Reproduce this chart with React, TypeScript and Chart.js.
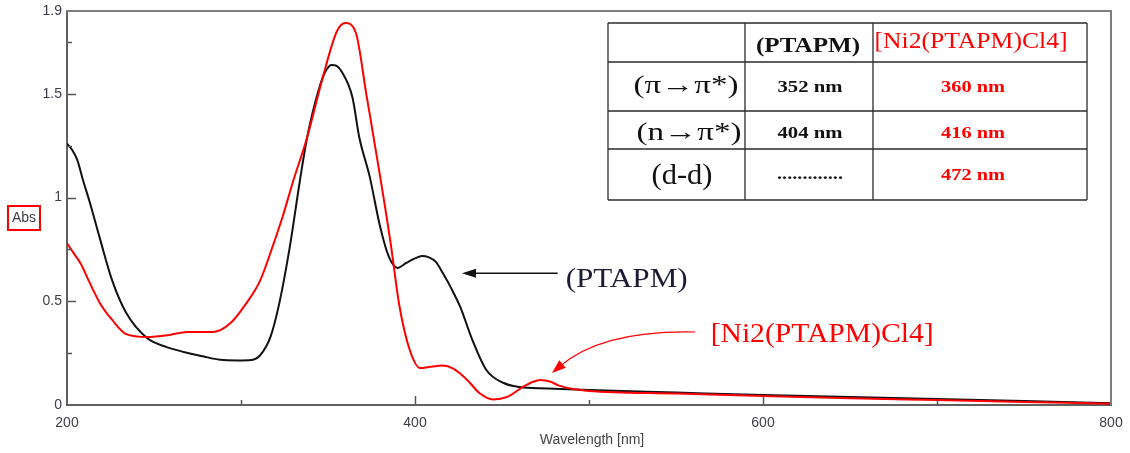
import React, { useEffect, useRef } from "react";
import { Chart, registerables } from "chart.js";

Chart.register(...registerables);

// Absorption spectrum of the free ligand (PTAPM)
const PTAPM_NM = [200, 203, 206, 209, 213, 219, 226, 234, 246, 257, 267, 278, 288, 298, 306, 311, 317, 322, 328, 334, 338, 345, 349, 352, 355, 358, 364, 368, 374, 380, 385, 390, 395, 400, 404, 408, 412, 416, 421, 426, 433, 441, 451, 460, 476, 500, 550, 600, 650, 700, 750, 800];
const PTAPM_ABS = [1.26, 1.23, 1.18, 1.09, 0.98, 0.8, 0.6, 0.445, 0.323, 0.28, 0.256, 0.235, 0.218, 0.215, 0.217, 0.24, 0.33, 0.49, 0.76, 1.09, 1.29, 1.53, 1.615, 1.64, 1.635, 1.606, 1.485, 1.29, 1.1, 0.858, 0.714, 0.661, 0.685, 0.707, 0.718, 0.712, 0.69, 0.636, 0.56, 0.473, 0.313, 0.169, 0.106, 0.087, 0.08, 0.072, 0.06, 0.048, 0.038, 0.029, 0.019, 0.008];

// Absorption spectrum of the nickel complex [Ni2(PTAPM)Cl4]
const COMPLEX_NM = [200, 204, 208, 213, 219, 226, 234, 246, 259, 269, 284, 294, 303, 311, 318, 324, 330, 338, 347, 355, 360, 366, 372, 380, 386, 391, 397, 403, 408, 416, 422, 430, 437, 445, 453, 462, 468, 472, 478, 482, 491, 500, 550, 600, 650, 700, 750, 800];
const COMPLEX_ABS = [0.78, 0.73, 0.68, 0.59, 0.49, 0.41, 0.342, 0.328, 0.338, 0.352, 0.352, 0.395, 0.49, 0.6, 0.76, 0.91, 1.08, 1.29, 1.58, 1.8, 1.842, 1.795, 1.5, 1.1, 0.78, 0.48, 0.265, 0.178, 0.183, 0.19, 0.175, 0.121, 0.058, 0.027, 0.039, 0.087, 0.112, 0.12, 0.112, 0.096, 0.077, 0.068, 0.055, 0.043, 0.033, 0.024, 0.015, 0.006];

const X_TICKS = [200, 400, 600, 800];
const X_MINOR = [300, 500, 700];
const Y_TICKS = [0, 0.5, 1, 1.5, 1.9];
const Y_MINOR = [0.25, 0.75, 1.25, 1.75];

// Band assignment table
const TABLE_HEADERS = ["(PTAPM)", "[Ni2(PTAPM)Cl4]"];
const TRANSITIONS = ["(π→π*)", "(n→π*)", "(d-d)"];
const PTAPM_BANDS = ["352 nm", "404 nm", "............."];
const COMPLEX_BANDS = ["360 nm", "416 nm", "472 nm"];

const RED = "#ff0000";
const SERIF = "'Liberation Serif', 'Times New Roman', serif";
const SANS = "'Liberation Sans', Arial, sans-serif";

function drawText(
  ctx: CanvasRenderingContext2D,
  text: string,
  cx: number,
  cy: number,
  font: string,
  color: string,
  width?: number
) {
  ctx.save();
  ctx.font = font;
  ctx.fillStyle = color;
  ctx.textAlign = "center";
  ctx.textBaseline = "middle";
  const w = ctx.measureText(text).width;
  ctx.translate(cx, cy);
  if (width && w > 0) ctx.scale(width / w, 1);
  ctx.fillText(text, 0, 0);
  ctx.restore();
}

function arrowHead(
  ctx: CanvasRenderingContext2D,
  tipX: number,
  tipY: number,
  dx: number,
  dy: number,
  len: number,
  half: number
) {
  const d = Math.hypot(dx, dy) || 1;
  const ux = dx / d;
  const uy = dy / d;
  const bx = tipX - ux * len;
  const by = tipY - uy * len;
  ctx.beginPath();
  ctx.moveTo(tipX, tipY);
  ctx.lineTo(bx - uy * half, by + ux * half);
  ctx.lineTo(bx + uy * half, by - ux * half);
  ctx.closePath();
  ctx.fill();
}

const decorPlugin = {
  id: "decor",
  afterDraw(chart: any) {
    const { ctx, chartArea: a, scales } = chart;
    const xs = scales.x;
    const ys = scales.y;
    ctx.save();

    // Frame on the top and right
    ctx.strokeStyle = "#7d7d7d";
    ctx.lineWidth = 2;
    ctx.beginPath();
    ctx.moveTo(a.left - 1, a.top);
    ctx.lineTo(a.right, a.top);
    ctx.lineTo(a.right, a.bottom);
    ctx.stroke();

    // Inward tick marks
    ctx.strokeStyle = "#555";
    ctx.lineWidth = 1.5;
    const tickX = (v: number, len: number) => {
      const p = Math.round(xs.getPixelForValue(v)) + 0.5;
      ctx.beginPath();
      ctx.moveTo(p, a.bottom);
      ctx.lineTo(p, a.bottom - len);
      ctx.stroke();
    };
    const tickY = (v: number, len: number) => {
      const p = Math.round(ys.getPixelForValue(v)) + 0.5;
      ctx.beginPath();
      ctx.moveTo(a.left, p);
      ctx.lineTo(a.left + len, p);
      ctx.stroke();
    };
    X_TICKS.slice(1, -1).forEach((v) => tickX(v, 9));
    X_MINOR.forEach((v) => tickX(v, 5));
    Y_TICKS.slice(1, -1).forEach((v) => tickY(v, 9));
    Y_MINOR.forEach((v) => tickY(v, 5));

    // Axis titles
    drawText(ctx, "Wavelength [nm]", (a.left + a.right) / 2 + 3, 440, `14px ${SANS}`, "#444");
    ctx.strokeStyle = RED;
    ctx.lineWidth = 2;
    ctx.strokeRect(8, 206, 32, 24);
    drawText(ctx, "Abs", 24, 218, `14px ${SANS}`, "#3a3a4a");

    // Band table
    const cols = [608, 745, 873, 1087];
    const rows = [23, 62, 111, 149, 200];
    ctx.strokeStyle = "#2a2a2a";
    ctx.lineWidth = 1.3;
    rows.forEach((y) => {
      ctx.beginPath();
      ctx.moveTo(cols[0], y);
      ctx.lineTo(cols[cols.length - 1], y);
      ctx.stroke();
    });
    cols.forEach((x) => {
      ctx.beginPath();
      ctx.moveTo(x, rows[0]);
      ctx.lineTo(x, rows[rows.length - 1]);
      ctx.stroke();
    });
    drawText(ctx, TABLE_HEADERS[0], 808, 47, `bold 21px ${SERIF}`, "#111", 104);
    drawText(ctx, TABLE_HEADERS[1], 971, 42, `24px ${SERIF}`, RED, 193);
    const rowCy = [86, 133, 176];
    const labelCx = [686, 689, 682];
    const labelW = [105, 105, 61];
    const labelSize = [25, 25, 30];
    TRANSITIONS.forEach((t, i) => {
      drawText(ctx, t, labelCx[i], rowCy[i], `${labelSize[i]}px ${SERIF}`, "#111", labelW[i]);
    });
    const valCy = [88, 134, 176];
    PTAPM_BANDS.forEach((t, i) => {
      const isDots = t.startsWith(".");
      drawText(ctx, t, 810, isDots ? 175 : valCy[i], `bold 17px ${SERIF}`, "#111", isDots ? 66 : 65);
    });
    COMPLEX_BANDS.forEach((t, i) => {
      drawText(ctx, t, 973, valCy[i], `bold 17px ${SERIF}`, RED, 64);
    });

    // Arrow and label for (PTAPM)
    const pTipX = xs.getPixelForValue(427);
    const pTailX = xs.getPixelForValue(482);
    const pY = ys.getPixelForValue(0.635);
    ctx.strokeStyle = "#111";
    ctx.fillStyle = "#111";
    ctx.lineWidth = 1.5;
    ctx.beginPath();
    ctx.moveTo(pTailX, pY);
    ctx.lineTo(pTipX + 10, pY);
    ctx.stroke();
    arrowHead(ctx, pTipX, pY, -1, 0, 14, 4.5);
    drawText(ctx, "(PTAPM)", pTailX + 69, pY + 6, `28px ${SERIF}`, "#1c1c36", 122);

    // Curved arrow and label for the complex
    const sX = xs.getPixelForValue(561);
    const sY = ys.getPixelForValue(0.352);
    const cX = xs.getPixelForValue(507.5);
    const cY = ys.getPixelForValue(0.362);
    const tX = xs.getPixelForValue(478.7);
    const tY = ys.getPixelForValue(0.154);
    ctx.strokeStyle = RED;
    ctx.fillStyle = RED;
    ctx.lineWidth = 1.2;
    ctx.beginPath();
    ctx.moveTo(sX, sY);
    ctx.quadraticCurveTo(cX, cY, tX + (cX - tX) * 0.15, tY + (cY - tY) * 0.15);
    ctx.stroke();
    arrowHead(ctx, tX, tY, tX - cX, tY - cY, 14, 5);
    drawText(ctx, "[Ni2(PTAPM)Cl4]", sX + 127, sY + 3, `28px ${SERIF}`, RED, 223);

    ctx.restore();
  },
};

export default function App() {
  const canvasRef = useRef<HTMLCanvasElement | null>(null);

  useEffect(() => {
    const canvas = canvasRef.current;
    if (!canvas) return;
    const tickFont = { family: SANS, size: 14 };
    const chart = new Chart(canvas, {
      type: "line",
      data: {
        datasets: [
          {
            label: "[Ni2(PTAPM)Cl4]",
            data: COMPLEX_NM.map((x, i) => ({ x, y: COMPLEX_ABS[i] })),
            borderColor: RED,
            borderWidth: 2,
            pointRadius: 0,
            cubicInterpolationMode: "monotone",
            fill: false,
          },
          {
            label: "(PTAPM)",
            data: PTAPM_NM.map((x, i) => ({ x, y: PTAPM_ABS[i] })),
            borderColor: "#111111",
            borderWidth: 2,
            pointRadius: 0,
            cubicInterpolationMode: "monotone",
            fill: false,
          },
        ],
      },
      options: {
        responsive: false,
        animation: false,
        devicePixelRatio: 1,
        layout: { padding: { top: 11, right: 19, left: 0, bottom: 0 } },
        plugins: { legend: { display: false }, tooltip: { enabled: false } },
        scales: {
          x: {
            type: "linear",
            min: 200,
            max: 800,
            afterBuildTicks: (scale: any) => {
              scale.ticks = X_TICKS.map((value) => ({ value }));
            },
            afterFit: (scale: any) => {
              scale.height = 48;
              scale.paddingLeft = 0;
              scale.paddingRight = 0;
            },
            grid: { display: false, drawTicks: false },
            border: { display: true, color: "#606060", width: 2 },
            ticks: { font: tickFont, color: "#3d3d4a", padding: 10, maxRotation: 0, callback: (v: any) => String(v) },
          },
          y: {
            type: "linear",
            min: 0,
            max: 1.9,
            afterBuildTicks: (scale: any) => {
              scale.ticks = Y_TICKS.map((value) => ({ value }));
            },
            afterFit: (scale: any) => {
              scale.width = 67;
              scale.paddingTop = 0;
              scale.paddingBottom = 0;
            },
            grid: { display: false, drawTicks: false },
            border: { display: true, color: "#606060", width: 2 },
            ticks: { font: tickFont, color: "#3d3d4a", padding: 5, callback: (v: any) => String(v) },
          },
        },
      },
      plugins: [decorPlugin],
    });
    return () => chart.destroy();
  }, []);

  return (
    <div style={{ position: "fixed", left: 0, top: 0, width: 1130, height: 453, background: "#fff" }}>
      <canvas ref={canvasRef} width={1130} height={453} />
    </div>
  );
}
